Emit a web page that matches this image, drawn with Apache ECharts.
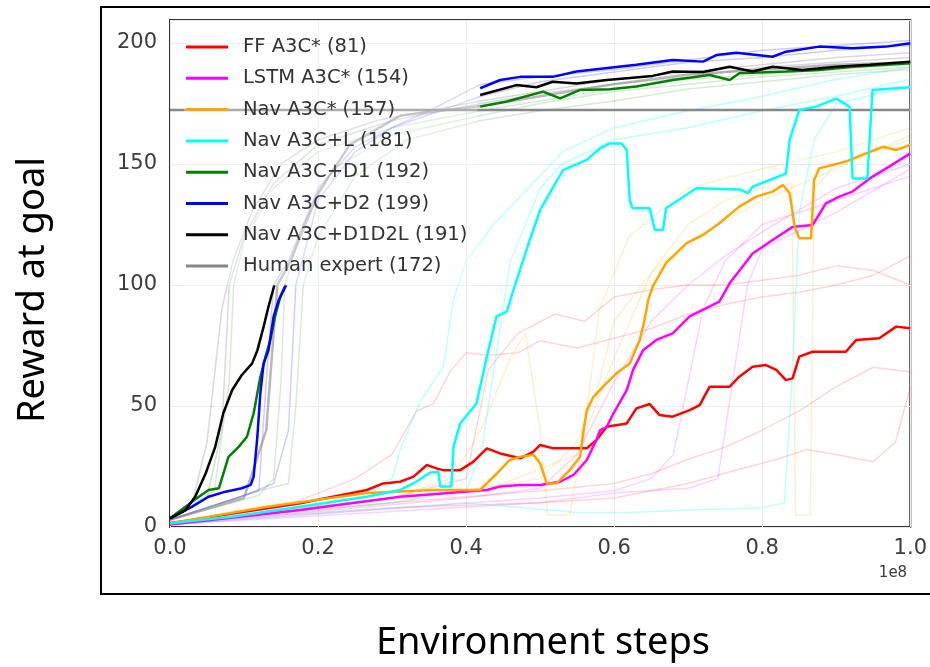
<!DOCTYPE html>
<html>
<head>
<meta charset="utf-8">
<script src="https://cdn.jsdelivr.net/npm/echarts@6/dist/echarts.min.js"></script>
<style>
  html, body { margin: 0; padding: 0; background: #fff; }
  #chart { width: 930px; height: 667px; }
</style>
</head>
<body>
<div id="chart"></div>
<script>
// x in units of 1e8 environment steps, y = reward at goal
const xTicks = [0, 0.2, 0.4, 0.6, 0.8, 1.0];
const yTicks = [0, 50, 100, 150, 200];

const legendNames = ['FF A3C* (81)', 'LSTM A3C* (154)', 'Nav A3C* (157)', 'Nav A3C+L (181)',
    'Nav A3C+D1 (192)', 'Nav A3C+D2 (199)', 'Nav A3C+D1D2L (191)', 'Human expert (172)'];
const legendColors = ['#ff0000', '#ff00ff', '#ffa500', '#00ffff', '#008000', '#0000ff', '#000000', '#888888'];

// bold curves
const ffA3C = [[0,1.5],[0.086,5.7],[0.176,9.8],[0.266,15.3],[0.288,18],[0.311,18.7],[0.329,20.8],[0.347,25.6],
    [0.36,24.2],[0.369,23.5],[0.392,23.5],[0.41,27],[0.428,32.5],[0.446,30.4],[0.473,28.4],[0.491,31.1],[0.5,33.9],
    [0.518,32.5],[0.563,32.5],[0.576,36],[0.59,41.4],[0.617,42.8],[0.63,49],[0.648,50.8],[0.661,46.3],[0.679,45.6],
    [0.702,48.3],[0.7155,50.4],[0.729,58],[0.756,58],[0.769,62.1],[0.787,66.2],[0.805,66.9],[0.819,64.9],[0.832,60.7],
    [0.841,61.4],[0.85,70.4],[0.868,72.4],[0.913,72.4],[0.927,77.3],[0.958,78],[0.981,82.8],[1.0,82.1]];
const lstmA3C = [[0,1],[0.176,7],[0.311,12.5],[0.428,15.3],[0.446,16.7],[0.473,17.4],[0.5,17.4],[0.527,18.7],
    [0.545,21.5],[0.563,27.7],[0.576,36],[0.581,40],[0.59,41.4],[0.599,47],[0.617,56.6],[0.6255,64.9],[0.639,73],
    [0.657,77.3],[0.679,80],[0.702,87],[0.7245,90.4],[0.742,93.1],[0.756,100.7],[0.787,113],[0.814,118.6],[0.841,124],
    [0.868,124.8],[0.886,133.7],[0.904,136.5],[0.922,138.6],[0.949,144.8],[0.972,149],[1.0,154.4]];
const navA3C = [[0,1.5],[0.131,8.4],[0.266,14],[0.356,15.3],[0.419,15.3],[0.441,22],[0.459,27.7],[0.473,29],
    [0.491,29.8],[0.5,26.3],[0.509,18],[0.522,18],[0.54,23.5],[0.554,29],[0.558,38.7],[0.563,48.3],[0.572,53.8],
    [0.585,58],[0.603,63.5],[0.621,67.6],[0.6345,77.3],[0.641,85.5],[0.646,93.8],[0.652,99.3],[0.67,109],[0.6975,117.2],
    [0.72,120.7],[0.742,125.5],[0.769,132.4],[0.792,136.5],[0.814,138.6],[0.828,141.3],[0.837,137.9],[0.844,124],
    [0.85,119.3],[0.866,119.3],[0.87,143.4],[0.877,148.2],[0.913,151],[0.94,154.4],[0.963,157.1],[0.981,155.8],[1.0,157.9]];
const navA3CL = [[0,1.5],[0.086,4.3],[0.176,8.4],[0.266,12.5],[0.311,15.3],[0.329,18],[0.351,22.4],[0.3625,22.8],
    [0.365,16.7],[0.38,16.7],[0.383,33.2],[0.392,42.8],[0.414,51],[0.428,70.4],[0.441,87],[0.455,89],[0.464,98],
    [0.486,118.6],[0.5,131],[0.513,138],[0.531,147.5],[0.563,151.7],[0.581,156.5],[0.594,158.5],[0.61,158.5],
    [0.617,155.8],[0.621,135],[0.625,131.7],[0.648,131.7],[0.655,122.7],[0.666,122.7],[0.67,131.7],[0.711,140],
    [0.769,139.5],[0.781,138],[0.787,140.6],[0.832,146],[0.837,160],[0.85,172.3],[0.873,173.7],[0.9,177],
    [0.918,173.7],[0.922,144],[0.942,144],[0.949,180.6],[1.0,181.7]];
const navD1 = [[0,3.6],[0.039,12.5],[0.052,15.3],[0.066,16],[0.079,29],[0.093,33.2],[0.104,37.3],[0.113,47],
    [0.122,62],[0.129,70.4],[0.1355,77.3],[0.142,87],[0.149,95.2],[0.156,100],[0.3,null],
    [0.419,173.7],[0.455,175.8],[0.504,179.9],[0.527,177.1],[0.554,180.6],[0.594,180.9],[0.63,182],[0.679,184.7],
    [0.729,186.8],[0.756,184.7],[0.769,187.5],[0.832,188.2],[0.877,188.8],[0.922,190.2],[1.0,191.6]];
const navD2 = [[0,3.6],[0.03,8.4],[0.052,12.5],[0.075,14.6],[0.097,16],[0.109,17.4],[0.113,20.8],[0.118,37.3],
    [0.122,55.2],[0.1265,67.6],[0.133,73],[0.14,87],[0.147,93.8],[0.157,100],[0.3,null],
    [0.419,181.3],[0.446,184.7],[0.473,186],[0.517,186],[0.549,188.2],[0.585,189.5],[0.63,191],[0.679,193],
    [0.72,192.3],[0.738,195],[0.765,196],[0.814,194.3],[0.832,196.4],[0.877,198.5],[0.922,197.8],[0.967,198.5],[1.0,199.9]];
const navD1D2L = [[0,3.6],[0.021,7],[0.034,12.5],[0.048,22],[0.061,33],[0.072,47],[0.084,56.6],[0.097,62.8],
    [0.111,67.6],[0.118,73],[0.1265,82.8],[0.133,91],[0.141,100],[0.3,null],
    [0.419,178.5],[0.468,182.6],[0.495,181.7],[0.517,184],[0.549,183.3],[0.59,184.7],[0.652,186.4],[0.679,188.2],
    [0.72,188],[0.756,190.2],[0.787,188.2],[0.814,190.2],[0.854,188.8],[0.9,190.2],[0.945,191],[1.0,192.3]];
const humanExpert = [[0,172.3],[1.0,172.3]];

// faint individual runs
const fkRuns = [
    [[0,3],[0.03,10],[0.05,35],[0.07,90],[0.085,110],[0.11,130],[0.15,150],[0.2,160],[0.28,168],[0.35,172],[0.42,176],[0.5,180],[0.6,185],[0.7,188],[0.8,191],[0.9,194],[1.0,196]],
    [[0,3],[0.05,12],[0.07,40],[0.08,100],[0.1,120],[0.14,142],[0.2,158],[0.3,168],[0.42,175],[0.5,179],[0.6,183],[0.7,186],[0.8,190],[0.9,192],[1.0,194]],
    [[0,3],[0.1,12],[0.13,40],[0.145,100],[0.16,108],[0.2,138],[0.243,158],[0.311,170],[0.42,174],[0.5,178],[0.6,183],[0.7,187],[0.8,189],[0.9,191],[1.0,192]]
];
const fbRuns = [
    [[0,3],[0.1,13],[0.14,18],[0.16,40],[0.17,100],[0.2,135],[0.25,155],[0.3,165],[0.35,172],[0.42,183],[0.5,186],[0.6,189],[0.7,193],[0.8,197],[0.9,199],[1.0,201]],
    [[0,3],[0.12,15],[0.13,60],[0.14,100],[0.16,110],[0.2,140],[0.25,157],[0.3,165],[0.42,178],[0.5,184],[0.6,188],[0.7,192],[0.8,194],[0.9,197],[1.0,199]]
];
const fgRuns = [
    [[0,3],[0.12,13],[0.14,20],[0.15,60],[0.155,100],[0.18,125],[0.22,148],[0.3,162],[0.42,170],[0.5,175],[0.6,180],[0.7,183],[0.8,186],[0.9,188],[1.0,190]],
    [[0,3],[0.12,15],[0.16,18],[0.17,50],[0.18,100],[0.2,120],[0.25,145],[0.32,160],[0.42,168],[0.5,172],[0.6,176],[0.7,181],[0.8,184],[0.9,187],[1.0,189]],
    [[0,3],[0.06,15],[0.08,60],[0.086,100],[0.1,118],[0.14,140],[0.2,155],[0.3,165],[0.42,172],[0.5,176],[0.6,181],[0.7,185],[0.8,187],[0.9,189],[1.0,191]]
];
const redRuns = [
    [[0,2],[0.15,8],[0.25,20],[0.3,30],[0.333,48],[0.356,51],[0.378,64],[0.4,72],[0.43,71],[0.47,72],[0.5,77],[0.55,74],[0.6,78],[0.65,82],[0.7,88],[0.75,92],[0.8,95],[0.85,97],[0.9,100],[0.95,104],[1.0,112]],
    [[0,2],[0.3,12],[0.4,20],[0.43,65],[0.47,80],[0.52,88],[0.56,85],[0.6,95],[0.65,98],[0.7,100],[0.75,100],[0.8,102],[0.85,104],[0.9,108],[0.95,106],[1.0,100]],
    [[0,2],[0.3,10],[0.5,15],[0.6,18],[0.65,22],[0.7,28],[0.75,33],[0.8,40],[0.85,48],[0.9,58],[0.95,66],[1.0,64]],
    [[0,2],[0.3,8],[0.5,10],[0.6,12],[0.7,18],[0.77,24],[0.82,28],[0.86,32],[0.9,30],[0.95,27],[0.98,35],[1.0,58]]
];
const cyanRuns = [
    [[0,1],[0.2,8],[0.3,20],[0.311,32],[0.338,52],[0.369,66],[0.383,94],[0.4,110],[0.437,125],[0.5,145],[0.53,155],[0.6,165],[0.7,172],[0.8,178],[0.9,185],[1.0,190]],
    [[0,1],[0.3,10],[0.4,15],[0.42,30],[0.44,70],[0.46,110],[0.5,140],[0.53,150],[0.6,160],[0.7,165],[0.8,172],[0.9,178],[1.0,185]],
    [[0,1],[0.4,10],[0.55,6],[0.62,6],[0.7,7],[0.8,8],[0.83,10],[0.84,60],[0.85,130],[0.87,160],[0.9,175],[1.0,182]]
];
const orangeRuns = [
    [[0,1],[0.3,12],[0.38,20],[0.42,40],[0.46,70],[0.48,80],[0.5,40],[0.51,5],[0.54,5],[0.56,40],[0.58,90],[0.62,120],[0.7,140],[0.8,148],[0.9,155],[1.0,165]],
    [[0,1],[0.3,10],[0.45,18],[0.55,30],[0.6,70],[0.65,105],[0.7,125],[0.75,135],[0.8,140],[0.84,142],[0.845,5],[0.865,5],[0.87,140],[0.9,150],[1.0,160]],
    [[0,1],[0.4,15],[0.5,20],[0.55,35],[0.58,60],[0.6,85],[0.65,105],[0.7,118],[0.8,135],[0.9,148],[1.0,162]]
];
const magentaRuns = [
    [[0,1],[0.4,12],[0.5,16],[0.55,30],[0.6,60],[0.65,85],[0.7,100],[0.75,112],[0.8,122],[0.9,140],[1.0,150]],
    [[0,1],[0.5,12],[0.6,15],[0.65,20],[0.68,30],[0.7,60],[0.72,90],[0.75,110],[0.8,125],[0.9,135],[1.0,145]],
    [[0,1],[0.5,10],[0.6,14],[0.7,16],[0.74,20],[0.76,60],[0.78,100],[0.8,115],[0.9,130],[1.0,148]]
];

var myChart = echarts.init(document.getElementById('chart'));

function faint(runs, color, tag, opacity, width) {
    return runs.map((d, i) => ({
        type: 'line', name: tag + i, data: d, symbol: 'none', silent: true,
        lineStyle: { color: color, width: width || 1.5, opacity: opacity }
    }));
}

function bold(name, data, color, width) {
    return {
        type: 'line', name: name, data: data, symbol: 'none', connectNulls: false,
        color: color, lineStyle: { color: color, width: width || 2.5 }
    };
}

var series = [].concat(
    faint(redRuns, '#ff0000', 'ff', 0.16),
    faint(magentaRuns, '#ff00ff', 'lstm', 0.18),
    faint(orangeRuns, '#ffa500', 'nav', 0.18),
    faint(cyanRuns, '#00ffff', 'navl', 0.25),
    faint(fgRuns, '#008000', 'd1', 0.16),
    faint(fbRuns, '#0000ff', 'd2', 0.2),
    faint(fkRuns.slice(0, 2), '#777777', 'd1d2l', 0.28),
    faint(fkRuns.slice(2), '#888888', 'd1d2lm', 0.6, 2.5),
    [
        bold(legendNames[7], humanExpert, legendColors[7], 2.5),
        bold(legendNames[0], ffA3C, legendColors[0]),
        bold(legendNames[1], lstmA3C, legendColors[1]),
        bold(legendNames[2], navA3C, legendColors[2]),
        bold(legendNames[3], navA3CL, legendColors[3]),
        bold(legendNames[4], navD1, legendColors[4]),
        bold(legendNames[5], navD2, legendColors[5]),
        bold(legendNames[6], navD1D2L, legendColors[6])
    ]
);

var option = {
    animation: false,
    backgroundColor: '#fff',
    grid: {
        left: 170, top: 20, width: 741, height: 507,
        show: true, borderColor: '#333', borderWidth: 2, backgroundColor: 'transparent'
    },
    xAxis: {
        type: 'value', min: 0, max: 1.0, interval: 0.2,
        axisLine: { show: false }, axisTick: { show: false },
        axisLabel: {
            margin: 11, color: '#3c3c3c', fontSize: 21, fontFamily: 'DejaVu Sans',
            formatter: v => v.toFixed(1)
        },
        splitLine: { show: true, lineStyle: { color: '#ebebeb', width: 1 } }
    },
    yAxis: {
        type: 'value', min: 0, max: 209.5, interval: 50,
        axisLine: { show: false }, axisTick: { show: false },
        axisLabel: {
            margin: 13, color: '#3c3c3c', fontSize: 21, fontFamily: 'DejaVu Sans',
            formatter: v => (yTicks.indexOf(v) >= 0 ? String(v) : '')
        },
        splitLine: { show: true, lineStyle: { color: '#ebebeb', width: 1 } }
    },
    legend: {
        data: legendNames,
        orient: 'vertical',
        left: 184, top: 27,
        padding: [10, 10, 10, 2],
        backgroundColor: 'rgba(255,255,255,0.3)',
        icon: 'rect', itemWidth: 42, itemHeight: 3, itemGap: 11.3,
        selectedMode: false,
        textStyle: {
            color: '#333', fontSize: 19.5, fontFamily: 'DejaVu Sans', lineHeight: 19.5,
            padding: [0, 0, 0, 10]
        }
    },
    graphic: [
        { type: 'rect', shape: { x: 101, y: 7, width: 850, height: 587 },
          style: { fill: 'none', stroke: '#000', lineWidth: 2 }, silent: true },
        { type: 'text', x: 893, y: 573,
          style: { text: '1e8', fill: '#3c3c3c', font: '15px "DejaVu Sans"', textAlign: 'center', textVerticalAlign: 'middle' } },
        { type: 'text', x: 33, y: 290, rotation: Math.PI / 2,
          style: { text: 'Reward at goal', fill: '#000', font: '38px "Noto Sans"', textAlign: 'center', textVerticalAlign: 'middle' } },
        { type: 'text', x: 543, y: 643,
          style: { text: 'Environment steps', fill: '#000', font: '38px "Noto Sans"', textAlign: 'center', textVerticalAlign: 'middle' } }
    ],
    series: series
};

myChart.setOption(option);
</script>
</body>
</html>
